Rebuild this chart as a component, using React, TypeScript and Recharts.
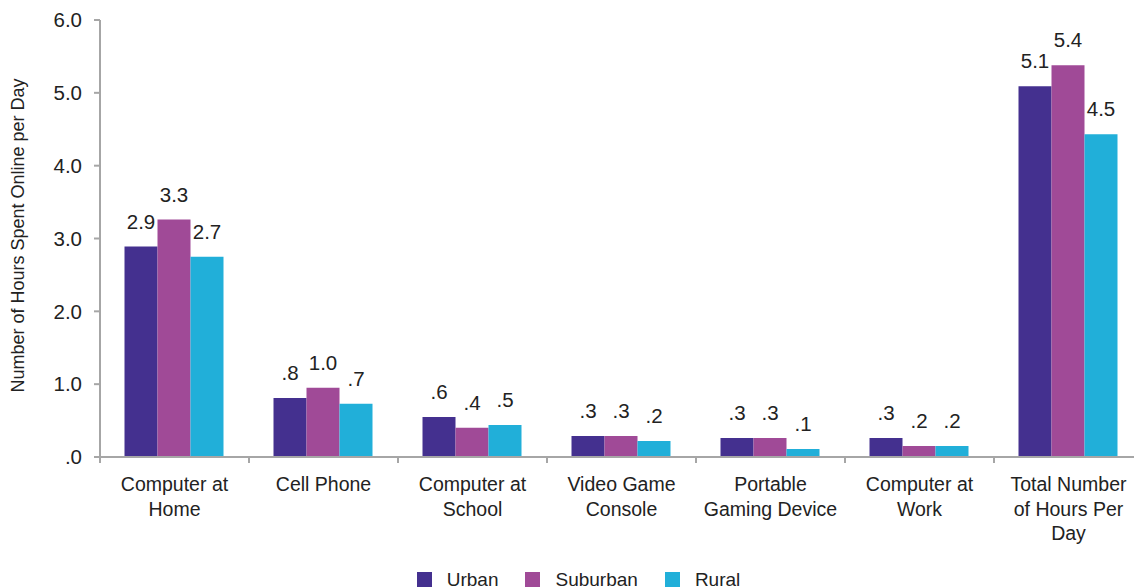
import { BarChart, Bar, XAxis, YAxis, Legend, LabelList } from "recharts";

const categoryLines = [
  ["Computer at", "Home"],
  ["Cell Phone"],
  ["Computer at", "School"],
  ["Video Game", "Console"],
  ["Portable", "Gaming Device"],
  ["Computer at", "Work"],
  ["Total Number", "of Hours Per", "Day"],
];

const urban = [2.89, 0.81, 0.55, 0.29, 0.26, 0.26, 5.09];
const suburban = [3.26, 0.95, 0.4, 0.29, 0.26, 0.15, 5.38];
const rural = [2.75, 0.73, 0.44, 0.22, 0.11, 0.15, 4.43];

const urbanLabels = ["2.9", ".8", ".6", ".3", ".3", ".3", "5.1"];
const suburbanLabels = ["3.3", "1.0", ".4", ".3", ".3", ".2", "5.4"];
const ruralLabels = ["2.7", ".7", ".5", ".2", ".1", ".2", "4.5"];

const yTicks = [0, 1, 2, 3, 4, 5, 6];

const FONT = "'Liberation Sans', Arial, sans-serif";
const AXIS = "#a6a6a6";
const TEXT = "#222";

const series = [
  { key: "urban", name: "Urban", color: "#44308f" },
  { key: "suburban", name: "Suburban", color: "#a04a97" },
  { key: "rural", name: "Rural", color: "#21afd9" },
];

const data = categoryLines.map((lines, i) => ({
  name: lines.join(" "),
  urban: urban[i],
  suburban: suburban[i],
  rural: rural[i],
  urbanLabel: urbanLabels[i],
  suburbanLabel: suburbanLabels[i],
  ruralLabel: ruralLabels[i],
}));

function CategoryTick(props: any) {
  const { x, y, payload, index } = props;
  const half = payload?.offset ?? 0;
  const lines = categoryLines[index] || [];
  const last = index === categoryLines.length - 1;
  return (
    <g>
      {half > 0 && (
        <line x1={x - half} x2={x - half} y1={y} y2={y + 6} stroke={AXIS} strokeWidth={2} />
      )}
      {half > 0 && last && (
        <line x1={x + half} x2={x + half} y1={y} y2={y + 6} stroke={AXIS} strokeWidth={2} />
      )}
      <text x={x} y={y + 34} textAnchor="middle" fontSize={19.5} fill={TEXT} fontFamily={FONT}>
        {lines.map((l, i) => (
          <tspan key={i} x={x} dy={i === 0 ? 0 : 24.5}>
            {l}
          </tspan>
        ))}
      </text>
    </g>
  );
}

function renderLegend() {
  return (
    <div
      style={{
        display: "flex",
        justifyContent: "center",
        alignItems: "center",
        paddingTop: 15,
        paddingLeft: 14,
        fontFamily: FONT,
        fontSize: 19,
        color: TEXT,
      }}
    >
      {series.map((s, i) => (
        <div
          key={s.key}
          style={{ display: "flex", alignItems: "center", marginLeft: i === 0 ? 0 : 27, height: 15 }}
        >
          <span style={{ width: 15, height: 15, background: s.color, marginRight: 15 }} />
          <span>{s.name}</span>
        </div>
      ))}
    </div>
  );
}

function YLabel(props: any) {
  const vb = props.viewBox || { x: 0, y: 0, height: 0 };
  const cx = vb.x + 18;
  const cy = vb.y + vb.height / 2 - 3;
  return (
    <text
      x={cx}
      y={cy}
      textAnchor="middle"
      dominantBaseline="central"
      transform={`rotate(-90, ${cx}, ${cy})`}
      fontSize={18}
      fill={TEXT}
      fontFamily={FONT}
    >
      Number of Hours Spent Online per Day
    </text>
  );
}

export default function App() {
  return (
    <div
      style={{
        position: "absolute",
        left: 0,
        top: 0,
        width: 1134,
        height: 588,
        overflow: "hidden",
        background: "#fff",
      }}
    >
      <BarChart
        width={1143}
        height={588}
        data={data}
        margin={{ top: 20, right: 0, left: 0, bottom: 0 }}
        barCategoryGap={24.5}
        barGap={0}
      >
        <XAxis
          dataKey="name"
          height={100}
          tickLine={false}
          tickSize={0}
          tickMargin={0}
          axisLine={{ stroke: AXIS, strokeWidth: 2 }}
          tick={<CategoryTick />}
          interval={0}
        />
        <YAxis
          width={100}
          domain={[0, 6]}
          ticks={yTicks}
          tickFormatter={(v: number) => (v === 0 ? ".0" : v.toFixed(1))}
          tickSize={6}
          tickMargin={12}
          tickLine={{ stroke: AXIS, strokeWidth: 2 }}
          axisLine={{ stroke: AXIS, strokeWidth: 2 }}
          tick={{ fontSize: 20.5, fill: TEXT, fontFamily: FONT }}
          label={<YLabel />}
        />
        <Legend verticalAlign="bottom" height={31} content={renderLegend} />
        {series.map((s) => (
          <Bar key={s.key} dataKey={s.key} name={s.name} fill={s.color} isAnimationActive={false}>
            <LabelList
              dataKey={`${s.key}Label`}
              position="top"
              offset={18}
              fontSize={20.5}
              fill={TEXT}
              fontFamily={FONT}
            />
          </Bar>
        ))}
      </BarChart>
    </div>
  );
}
